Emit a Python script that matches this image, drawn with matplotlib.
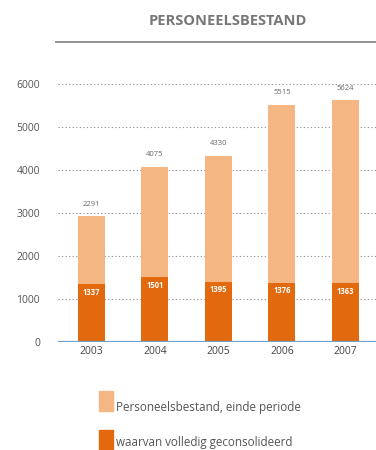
import matplotlib
matplotlib.use("Agg")
import matplotlib.pyplot as plt
from matplotlib.patches import Rectangle

years = ["2003", "2004", "2005", "2006", "2007"]
totals = [2930, 4075, 4330, 5515, 5624]
total_labels = ["2291", "4075", "4330", "5515", "5624"]
consolidated = [1337, 1501, 1395, 1376, 1363]
yticks = [0, 1000, 2000, 3000, 4000, 5000, 6000]
legend_labels = ["Personeelsbestand, einde periode", "waarvan volledig geconsolideerd"]
title = "PERSONEELSBESTAND"

LIGHT = "#F4B682"
DARK = "#E2690D"
GRAY = "#666666"

plt.rcParams["font.family"] = ["Open Sans", "DejaVu Sans"]

W, H = 376, 450
fig = plt.figure(figsize=(W / 100, H / 100), dpi=100)

x0, x1 = 58, 376
y_top, y_bot = 84, 341.7
ax = fig.add_axes([x0 / W, 1 - y_bot / H, (x1 - x0) / W, (y_bot - y_top) / H])

xs = list(range(len(years)))
bw = 0.425
ax.bar(xs, totals, width=bw, color=LIGHT, zorder=2)
ax.bar(xs, consolidated, width=bw, color=DARK, zorder=3)

for x, t, lab in zip(xs, totals, total_labels):
    ax.annotate(lab, (x, t), xytext=(0, 6), textcoords="offset points",
                ha="center", va="bottom", fontsize=5.5, color=GRAY, clip_on=False)
for x, c in zip(xs, consolidated):
    ax.annotate(str(c), (x, c), xytext=(0, -2.5), textcoords="offset points",
                ha="center", va="top", fontsize=5.5, color="white",
                fontweight="bold", zorder=5)

ax.set_xlim(-0.524, 4.48)
ax.set_ylim(0, 6000)
for v in yticks[1:]:
    ax.axhline(v, color="#8a8a8a", linestyle=(0, (1, 2.2)), linewidth=0.8, zorder=1)
ax.axhline(0, color="#6FA3CC", linewidth=1.6, zorder=4)

ax.set_yticks(yticks)
ax.set_yticklabels([str(v) for v in yticks])
ax.set_xticks(xs)
ax.set_xticklabels(years)
ax.tick_params(axis="y", length=0, pad=13, labelsize=7.5, labelcolor="#555555")
ax.tick_params(axis="x", length=0, pad=3, labelsize=7.5, labelcolor="#444444")
for s in ax.spines.values():
    s.set_visible(False)
ax.set_facecolor("none")

fig.text(227.5 / W, 1 - 20.7 / H, title, ha="center", va="center",
         fontsize=10.5, fontweight="bold", color="#777777")
fig.add_artist(plt.Line2D([56 / W, 1.0], [1 - 41.7 / H, 1 - 41.7 / H],
                          color="#888888", linewidth=1.3))

legend_colors = [LIGHT, DARK]
legend_tops = [391, 430]
legend_baselines = [410.5, 446]
for lab, col, top, base in zip(legend_labels, legend_colors, legend_tops, legend_baselines):
    fig.add_artist(Rectangle((99 / W, 1 - (top + 19.7) / H), 13.7 / W, 19.7 / H,
                             color=col, transform=fig.transFigure))
    fig.text(116 / W, 1 - base / H, lab, ha="left", va="baseline",
             fontsize=8.4, color="#555555")

fig.savefig("out.png", dpi=100)
